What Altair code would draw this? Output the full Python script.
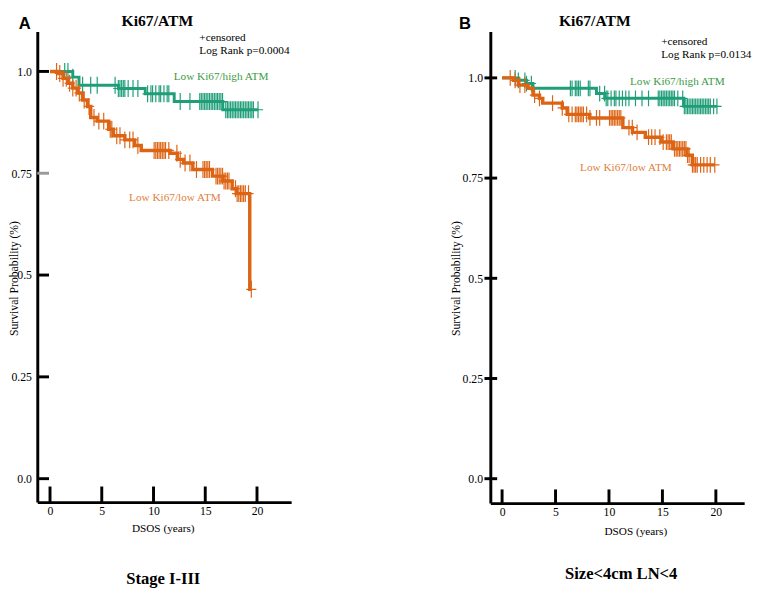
import altair as alt
import pandas as pd

GREEN = "#1f9e78"
ORANGE = "#dc6414"
GREEN_TXT = "#3d9a44"
ORANGE_TXT = "#e0803c"
SERIF = "Liberation Serif"
SANS = "Liberation Sans"

x_ticks = [0, 5, 10, 15, 20]
y_ticks = [0.0, 0.25, 0.5, 0.75, 1.0]
y_tick_labels = ["0.0", "0.25", "0.5", "0.75", "1.0"]

panel_titles = ["Ki67/ATM", "Ki67/ATM"]
panel_letters = ["A", "B"]
subgroup_titles = ["Stage I-III", "Size<4cm LN<4"]
censor_note = "+censored"
logrank_notes = ["Log Rank p=0.0004", "Log Rank p=0.0134"]
group_names = ["Low Ki67/high ATM", "Low Ki67/low ATM"]
x_title = "DSOS (years)"
y_title = "Survival Probability (%)"

# ---------------- Panel A : Stage I-III ----------------
a_high_time = [0, 2.2, 2.8, 6.6, 9.2, 12.0, 16.7, 20.1]
a_high_surv = [1.0, 0.986, 0.966, 0.958, 0.945, 0.926, 0.906, 0.906]
a_high_cens = [1.42, 1.73, 2.20, 3.15, 3.93, 4.56, 6.29, 6.60, 6.76, 6.92, 7.08, 7.23,
               7.55, 8.02, 8.49, 9.43, 9.75, 9.91, 10.22, 10.54, 10.69, 11.01, 11.32,
               11.48, 12.58, 13.52, 14.47, 14.62, 14.78, 14.94, 15.09, 15.25, 15.41,
               15.57, 15.72, 15.88, 16.04, 16.19, 16.35, 16.51, 16.67, 16.98, 17.14,
               17.29, 17.45, 17.61, 17.77, 17.92, 18.08, 18.24, 18.40, 18.55, 18.71,
               18.87, 19.03, 19.18, 19.34, 19.50, 19.65, 20.1]

a_low_time = [0, 0.79, 1.26, 1.73, 2.2, 2.67, 3.14, 3.62, 3.93, 4.56, 5.66, 6.13, 7.23,
              8.18, 8.81, 11.6, 12.3, 12.9, 13.8, 15.7, 16.7, 17.6, 18.0, 19.3, 19.45]
a_low_surv = [1.0, 0.995, 0.983, 0.971, 0.959, 0.947, 0.930, 0.914, 0.887, 0.878, 0.858,
              0.842, 0.832, 0.818, 0.806, 0.799, 0.784, 0.775, 0.759, 0.743, 0.731,
              0.712, 0.700, 0.465, 0.465]
a_low_cens = [0.63, 0.94, 1.26, 1.57, 1.89, 2.20, 2.52, 2.83, 3.30, 3.77, 4.25, 4.72,
              5.19, 5.82, 5.97, 6.45, 6.76, 7.23, 7.70, 8.02, 8.49, 10.06, 10.22, 10.38,
              10.54, 10.69, 10.85, 11.01, 11.16, 11.48, 12.26, 12.58, 13.05, 13.52,
              14.15, 14.78, 14.94, 15.09, 15.25, 15.41, 16.04, 16.19, 16.35, 16.51,
              16.67, 16.82, 16.98, 17.14, 17.29, 17.92, 18.08, 18.24, 18.40, 18.55,
              18.71, 18.87, 19.18, 19.45]

# ---------------- Panel B : Size<4cm LN<4 ----------------
b_high_time = [0, 1.52, 2.28, 2.89, 8.83, 9.6, 17.0, 20.1]
b_high_surv = [1.0, 0.994, 0.986, 0.974, 0.961, 0.949, 0.929, 0.929]
b_high_cens = [1.22, 1.52, 2.13, 2.28, 2.74, 6.39, 6.55, 6.85, 7.00, 7.15, 7.31, 8.07,
               8.22, 9.13, 9.59, 9.74, 9.89, 10.2, 10.5, 10.65, 10.96, 11.26, 11.57,
               11.87, 12.48, 13.09, 13.7, 14.61, 14.76, 14.92, 15.07, 15.22, 15.37,
               15.53, 15.68, 15.83, 15.98, 16.13, 16.44, 16.9, 17.05, 17.2, 17.35,
               17.5, 17.66, 17.81, 17.96, 18.11, 18.26, 18.42, 18.57, 18.72, 18.87,
               19.03, 19.18, 19.33, 19.48, 19.79, 20.1]

b_low_time = [0, 1.07, 1.52, 2.43, 2.89, 3.5, 3.8, 5.63, 6.09, 8.2, 11.3, 12.2, 13.4,
              14.9, 16.0, 17.3, 17.8, 19.9]
b_low_surv = [1.0, 0.994, 0.982, 0.974, 0.957, 0.949, 0.937, 0.925, 0.909, 0.900, 0.876,
              0.864, 0.852, 0.840, 0.823, 0.807, 0.783, 0.783]
b_low_cens = [0.76, 1.22, 1.67, 2.13, 3.04, 3.50, 4.72, 5.63, 6.24, 6.55, 6.85, 7.0,
              7.15, 7.31, 7.46, 7.61, 7.91, 8.22, 8.83, 9.13, 10.05, 10.2, 10.35, 10.5,
              10.65, 10.81, 10.96, 11.11, 11.87, 12.18, 12.63, 13.7, 14.0, 14.31,
              14.76, 15.07, 15.37, 15.53, 15.68, 15.83, 16.13, 16.29, 16.44, 16.59,
              16.74, 16.9, 17.05, 17.2, 17.35, 17.5, 17.81, 17.96, 18.11, 18.26,
              18.57, 18.87, 19.18, 19.48, 19.9]

CROSS = "M0,-1L0,1M-0.6,0L0.6,0"


def step_value(t, times, surv):
    v = surv[0]
    for tt, ss in zip(times, surv):
        if tt <= t:
            v = ss
    return v


label_expr = " : ".join(
    f"datum.value == {v} ? '{lab}'" for v, lab in zip(y_ticks, y_tick_labels)
) + " : ''"


def text_layer(txt, x, y, size, color="black", weight="normal", align="left",
               baseline="alphabetic", font=SERIF, angle=0):
    return alt.Chart(pd.DataFrame({"txt": [txt]})).mark_text(
        font=font, fontSize=size, fontWeight=weight, color=color, align=align,
        baseline=baseline, angle=angle
    ).encode(text="txt:N", x=alt.value(x), y=alt.value(y))


def panel(cfg):
    W, H = cfg["w"], cfg["h"]
    xs = alt.Scale(domain=cfg["xdom"], nice=False, zero=False)
    ys = alt.Scale(domain=cfg["ydom"], nice=False, zero=False)
    xaxis = alt.Axis(values=x_ticks, title=None, ticks=False, grid=False,
                     domainColor="black", domainWidth=3, labelFont=SERIF,
                     labelFontSize=12, labelColor="black", labelPadding=4,
                     labelFlush=False, labelOverlap=False)
    yaxis = alt.Axis(values=y_ticks, title=None, ticks=False, grid=False,
                     domainColor="black", domainWidth=3, labelFont=SERIF,
                     labelFontSize=12, labelColor="black",
                     labelPadding=cfg["ylabpad"], labelExpr=label_expr,
                     labelFlush=False, labelOverlap=False)
    X = lambda f: alt.X(f, scale=xs, axis=xaxis)
    Y = lambda f: alt.Y(f, scale=ys, axis=yaxis)

    layers = []
    for key, col, width in (("high", GREEN, 3), ("low", ORANGE, 3.5)):
        times, surv, cens = cfg[key]
        dfl = pd.DataFrame({"t": times, "s": surv})
        layers.append(alt.Chart(dfl).mark_line(
            interpolate="step-after", color=col, strokeWidth=width
        ).encode(x=X("t:Q"), y=Y("s:Q")))
        dfc = pd.DataFrame({"t": cens, "s": [step_value(c, times, surv) for c in cens]})
        layers.append(alt.Chart(dfc).mark_point(
            shape=CROSS, size=cfg["csize"], filled=False, strokeWidth=1.2, color=col,
            opacity=1
        ).encode(x=X("t:Q"), y=Y("s:Q")))

    # inward tick marks
    yt = pd.DataFrame({"v": y_ticks})
    layers.append(alt.Chart(yt).mark_rule(strokeWidth=3).encode(
        y=Y("v:Q"), x=alt.value(cfg["ytick"][0]), x2=alt.value(cfg["ytick"][1]),
        color=alt.condition(f"datum.v == {cfg['grey_tick']}", alt.value("#9a9a9a"),
                            alt.value("black"))))
    xt = pd.DataFrame({"v": x_ticks})
    layers.append(alt.Chart(xt).mark_rule(color="black", strokeWidth=3).encode(
        x=X("v:Q"), y=alt.value(H), y2=alt.value(H - cfg["xtick"])))

    # group labels (data coordinates)
    for name, (gx, gy), col in zip(group_names, cfg["glab"], (GREEN_TXT, ORANGE_TXT)):
        dfg = pd.DataFrame({"t": [gx], "s": [gy], "txt": [name]})
        layers.append(alt.Chart(dfg).mark_text(
            font=SERIF, fontSize=11.5, color=col, align="left", baseline="alphabetic"
        ).encode(x=X("t:Q"), y=Y("s:Q"), text="txt:N"))

    layers += [
        text_layer(cfg["title"], cfg["title_xy"][0], cfg["title_xy"][1], 16,
                   weight="bold", align="center"),
        text_layer(cfg["letter"], cfg["letter_xy"][0], cfg["letter_xy"][1], 17,
                   weight="bold", font=SANS),
        text_layer(censor_note, cfg["note_xy"][0], cfg["note_xy"][1], 11.5),
        text_layer(cfg["logrank"], cfg["note_xy"][0], cfg["note_xy"][1] + 13.5, 11.5),
        text_layer(x_title, cfg["xtitle_xy"][0], cfg["xtitle_xy"][1], 11.5, align="center"),
        text_layer(y_title, cfg["ytitle_xy"][0], cfg["ytitle_xy"][1], 12, align="center",
                   baseline="middle", angle=270),
        text_layer(cfg["sub"], cfg["sub_xy"][0], cfg["sub_xy"][1], 17, weight="bold",
                   align="center"),
    ]
    return alt.layer(*layers).properties(width=W, height=H)


cfgA = dict(w=260, h=482, xdom=[-1.23, 23.3], ydom=[-0.0576, 1.098], ylabpad=6,
            high=(a_high_time, a_high_surv, a_high_cens),
            low=(a_low_time, a_low_surv, a_low_cens),
            ytick=(0, 12), xtick=16, csize=300, grey_tick=0.75,
            glab=[(11.95, 0.978), (7.64, 0.682)],
            title=panel_titles[0], title_xy=(123, -6),
            letter=panel_letters[0], letter_xy=(-19, -3),
            logrank=logrank_notes[0], note_xy=(166, 10),
            xtitle_xy=(129, 513), ytitle_xy=(-24, 253),
            sub=subgroup_titles[0], sub_xy=(129, 566))

cfgB = dict(w=260, h=483, xdom=[-1.1, 22.65], ydom=[-0.0609, 1.1157], ylabpad=8,
            high=(b_high_time, b_high_surv, b_high_cens),
            low=(b_low_time, b_low_surv, b_low_cens),
            ytick=(-6, 7), xtick=14, csize=260, grey_tick=-1,
            glab=[(11.96, 0.982), (7.3, 0.767)],
            title=panel_titles[1], title_xy=(107, -6),
            letter=panel_letters[1], letter_xy=(-32, -3),
            logrank=logrank_notes[1], note_xy=(175, 14),
            xtitle_xy=(149, 516), ytitle_xy=(-35, 253),
            sub=subgroup_titles[1], sub_xy=(134, 561))

chart = alt.hconcat(panel(cfgA), panel(cfgB), spacing=163).properties(
    padding={"left": 0, "top": -2, "right": 0, "bottom": 0}
).configure_view(stroke=None)

chart.save("out.html", embed_options={"renderer": "svg", "actions": False})
